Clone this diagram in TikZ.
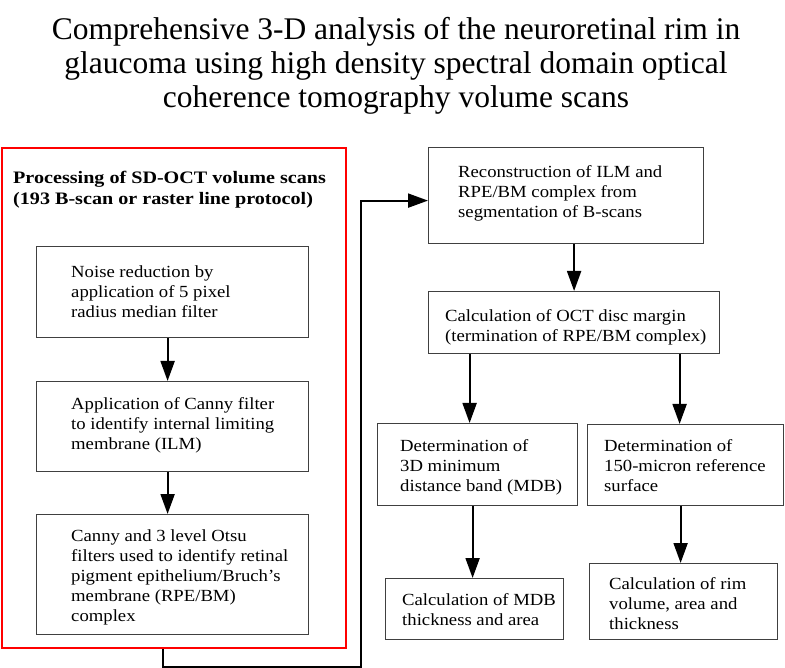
\documentclass[tikz,border=0pt]{standalone}
\usepackage{fontspec}
\setmainfont{Liberation Serif}
\newfontfamily\bodyfont{Liberation Serif}[FakeStretch=1.1]
\newfontfamily\headfont{Liberation Serif}[FakeStretch=1.15]
\usetikzlibrary{arrows.meta}

\tikzset{
  box/.style={draw=black!75, line width=1.2pt, inner sep=0pt},
  procbox/.style={draw=red, line width=2pt, inner sep=0pt},
  txt/.style={align=left, inner sep=0pt, font=\bodyfont\fontsize{17}{20}\selectfont},
  arrow/.style={line width=2pt, -{Triangle[width=14pt,length=20pt]}},
  link/.style={line width=2pt}
}

\begin{document}
\begin{tikzpicture}[x=1pt, y=-1pt]
  \useasboundingbox (0,0) rectangle (785,668);
  % title
  \node[align=center, inner sep=0pt, font=\fontsize{31.5}{34}\selectfont] (title) at (396,66)
    {Comprehensive 3-D analysis of the neuroretinal rim in\\
     glaucoma using high density spectral domain optical\\
     coherence tomography volume scans};
  % processing stage (red frame)
  \node[procbox, anchor=north west, minimum width=344, minimum height=500] (proc) at (1,147) {};
  \node[txt, anchor=west, font=\headfont\bfseries\fontsize{17.5}{21}\selectfont] (proctxt) at (13,190)
    {Processing of SD-OCT volume scans\\(193 B-scan or raster line protocol)};
  % boxes
  \foreach \nm/\l/\t/\r/\b in {noise/36/246/308/337, canny/36/381/308/471, otsu/36/514/308/634,
      recon/428/147/703/243, margin/428/291/719/353, mdb/377/423/577/505,
      surf/587/424/783/505, mdbcalc/385/578/563/639, rimcalc/589/563/777/639}
    \node[box, anchor=north west, minimum width=\r-\l, minimum height=\b-\t] (\nm) at (\l,\t) {};
  % box texts
  \node[txt, anchor=west] (noisetxt) at (71,292) {Noise reduction by\\application of 5 pixel\\radius median filter};
  \node[txt, anchor=west] (cannytxt) at (71,425) {Application of Canny filter\\to identify internal limiting\\membrane (ILM)};
  \node[txt, anchor=west] (otsutxt) at (71,577) {Canny and 3 level Otsu\\filters used to identify retinal\\pigment epithelium/Bruch’s\\membrane (RPE/BM)\\complex};
  \node[txt, anchor=west] (recontxt) at (458,193) {Reconstruction of ILM and\\RPE/BM complex from\\segmentation of B-scans};
  \node[txt, anchor=west] (margintxt) at (445,327) {Calculation of OCT disc margin\\(termination of RPE/BM complex)};
  \node[txt, anchor=west] (mdbtxt) at (400,467) {Determination of\\3D minimum\\distance band (MDB)};
  \node[txt, anchor=west] (surftxt) at (604,466) {Determination of\\150-micron reference\\surface};
  \node[txt, anchor=west] (mdbcalctxt) at (402,610) {Calculation of MDB\\thickness and area};
  \node[txt, anchor=west] (rimcalctxt) at (609,604) {Calculation of rim\\volume, area and\\thickness};
  % connectors
  \draw[arrow] ([xshift=-5pt]noise.south) -- ([xshift=-5pt]canny.north);
  \draw[arrow] ([xshift=-5pt]canny.south) -- ([xshift=-5pt]otsu.north);
  \coordinate (turn) at (361,667);
  \draw[link, -{Triangle[width=14pt,length=20pt]}] ([xshift=162pt]proc.south west) |- (turn) |- ([yshift=-5pt]recon.west);
  \draw[arrow] (margin.north |- recon.south) -- (margin.north);
  \draw[arrow] ([xshift=-8pt]mdb.north |- margin.south) -- ([xshift=-8pt]mdb.north);
  \draw[arrow] ([xshift=-6pt]surf.north |- margin.south) -- ([xshift=-6pt]surf.north);
  \draw[arrow] ([xshift=-5pt]mdb.south) -- ([xshift=-5pt]mdb.south |- mdbcalc.north);
  \draw[arrow] ([xshift=-5pt]surf.south) -- ([xshift=-5pt]surf.south |- rimcalc.north);
\end{tikzpicture}
\end{document}
